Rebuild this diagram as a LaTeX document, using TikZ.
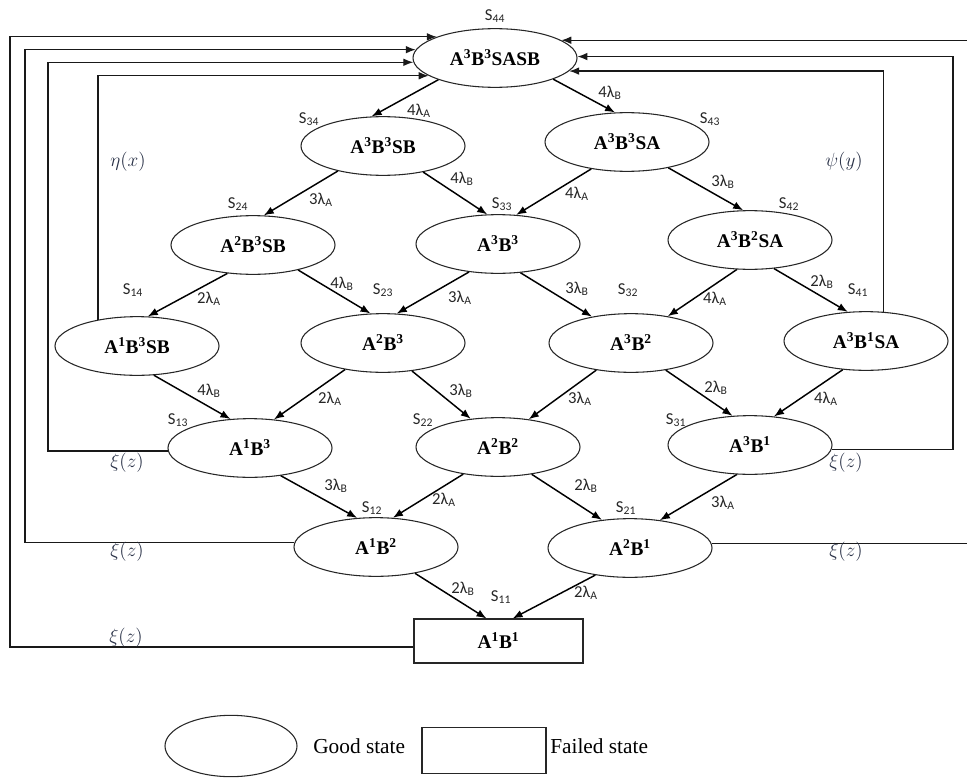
\documentclass[tikz,border=0pt]{standalone}
\usepackage{fontspec}
\setmainfont{Liberation Serif}
\newfontfamily\lblfont{Carlito}
\usetikzlibrary{shapes.geometric,arrows.meta}

% state text A^i B^j with an optional suffix
\newcommand\stateAB[3]{A\textsuperscript{#1}B\textsuperscript{#2}#3}
% state name S_ij
\newcommand\snm[1]{S\textsubscript{#1}}
% transition rate k lambda_X
\newcommand\rtl[2]{#1λ\textsubscript{#2}}

\definecolor{repcol}{RGB}{40,48,70}

\begin{document}
\begin{tikzpicture}[x=0.75pt,y=-0.75pt,
  good/.style={ellipse,draw=black!85,line width=0.8pt,minimum width=123pt,
    minimum height=44pt,inner sep=0pt,font=\fontsize{14.5}{16}\selectfont\bfseries},
  bad/.style={rectangle,draw=black!85,line width=0.8pt,minimum width=126.75pt,
    minimum height=33pt,inner sep=0pt,font=\fontsize{14.5}{16}\selectfont\bfseries},
  trans/.style={-{Latex[length=7.5pt,width=5.8pt]},line width=1.1pt},
  back/.style={-{Latex[length=7.5pt,width=5.8pt]},line width=1pt,draw=black!90},
  sname/.style={font=\lblfont\fontsize{12.5}{14}\selectfont,inner sep=0pt,text=black!85},
  rate/.style={font=\lblfont\fontsize{12.5}{14}\selectfont,inner sep=0pt,text=black!85},
  rep/.style={font=\fontsize{14}{16}\selectfont,inner sep=0pt,text=repcol},
  legtext/.style={font=\fontsize{16}{18}\selectfont,inner sep=0pt}
]
\useasboundingbox (0,0) rectangle (967,778);

% states
\node[good] (s44) at (495,58)  {\stateAB{3}{3}{SASB}};
\node[good] (s34) at (383,146) {\stateAB{3}{3}{SB}};
\node[good] (s43) at (627,142) {\stateAB{3}{3}{SA}};
\node[good] (s24) at (253,245) {\stateAB{2}{3}{SB}};
\node[good] (s33) at (498,244) {\stateAB{3}{3}{}};
\node[good] (s42) at (750,240) {\stateAB{3}{2}{SA}};
\node[good] (s14) at (137,346) {\stateAB{1}{3}{SB}};
\node[good] (s23) at (383,343) {\stateAB{2}{3}{}};
\node[good] (s32) at (631,343) {\stateAB{3}{2}{}};
\node[good] (s41) at (866,341) {\stateAB{3}{1}{SA}};
\node[good] (s13) at (250,448) {\stateAB{1}{3}{}};
\node[good] (s22) at (498,447) {\stateAB{2}{2}{}};
\node[good] (s31) at (750,445) {\stateAB{3}{1}{}};
\node[good] (s12) at (376,547) {\stateAB{1}{2}{}};
\node[good] (s21) at (630,548) {\stateAB{2}{1}{}};
\node[bad]  (s11) at (498.5,641) {\stateAB{1}{1}{}};

% state names
\node[sname] (n44) at (495,16)  {\snm{44}};
\node[sname] (n34) at (309,119) {\snm{34}};
\node[sname] (n43) at (710,119) {\snm{43}};
\node[sname] (n24) at (238,204) {\snm{24}};
\node[sname] (n33) at (502,204) {\snm{33}};
\node[sname] (n42) at (789,204) {\snm{42}};
\node[sname] (n14) at (133,290) {\snm{14}};
\node[sname] (n23) at (383,290) {\snm{23}};
\node[sname] (n32) at (628,290) {\snm{32}};
\node[sname] (n41) at (858,290) {\snm{41}};
\node[sname] (n13) at (178,420) {\snm{13}};
\node[sname] (n22) at (423,420) {\snm{22}};
\node[sname] (n31) at (676,420) {\snm{31}};
\node[sname] (n12) at (372,508) {\snm{12}};
\node[sname] (n21) at (626,508) {\snm{21}};
\node[sname] (n11) at (501,597) {\snm{11}};

% failure transitions
\draw[trans] (s44.201) -- (s34.111);
\draw[trans] (s44.340) -- (s43.112);
\draw[trans] (s34.209) -- (s24.70);
\draw[trans] (s34.327) -- (s33.110);
\draw[trans] (s43.217) -- (s33.58);
\draw[trans] (s43.328) -- (s42.103);
\draw[trans] (s24.228) -- (s14.70);
\draw[trans] (s24.331) -- (s23.113);
\draw[trans] (s33.224) -- (s23.65);
\draw[trans] (s33.308) -- (s32.146);
\draw[trans] (s42.246) -- (s32.36);
\draw[trans] (s42.310) -- (s41.122);
\draw[trans] (s14.300) -- (s13.124);
\draw[trans] (s23.215) -- (s13.50);
\draw[trans] (s23.316) -- (s22.134);
\draw[trans] (s32.218) -- (s22.42);
\draw[trans] (s32.322) -- (s31.121);
\draw[trans] (s41.231) -- (s31.50);
\draw[trans] (s13.318) -- (s12.123);
\draw[trans] (s22.218) -- (s12.60);
\draw[trans] (s22.321) -- (s21.135);
\draw[trans] (s31.246) -- (s21.43);
\draw[trans] (s12.326) -- (s11.118);
\draw[trans] (s21.218) -- (s11.58);

% rates
\node[rate] (r1) at (419,111) {\rtl{4}{A}};
\node[rate] (r2) at (610,93)  {\rtl{4}{B}};
\node[rate] (r3) at (321,200) {\rtl{3}{A}};
\node[rate] (r4) at (462,179) {\rtl{4}{B}};
\node[rate] (r5) at (577,194) {\rtl{4}{A}};
\node[rate] (r6) at (723,182) {\rtl{3}{B}};
\node[rate] (r7) at (209,299) {\rtl{2}{A}};
\node[rate] (r8) at (342,284) {\rtl{4}{B}};
\node[rate] (r9) at (460,298) {\rtl{3}{A}};
\node[rate] (r10) at (577,289) {\rtl{3}{B}};
\node[rate] (r11) at (715,299) {\rtl{4}{A}};
\node[rate] (r12) at (822,282) {\rtl{2}{B}};
\node[rate] (r13) at (209,391) {\rtl{4}{B}};
\node[rate] (r14) at (330,399) {\rtl{2}{A}};
\node[rate] (r15) at (461,391) {\rtl{3}{B}};
\node[rate] (r16) at (580,399) {\rtl{3}{A}};
\node[rate] (r17) at (716,388) {\rtl{2}{B}};
\node[rate] (r18) at (826,399) {\rtl{4}{A}};
\node[rate] (r19) at (336,486) {\rtl{3}{B}};
\node[rate] (r20) at (444,500) {\rtl{2}{A}};
\node[rate] (r21) at (586,486) {\rtl{2}{B}};
\node[rate] (r22) at (723,503) {\rtl{3}{A}};
\node[rate] (r23) at (463,589) {\rtl{2}{B}};
\node[rate] (r24) at (586,593) {\rtl{2}{A}};

% repair paths back to the fully working state
\coordinate (l1) at (10,300);
\coordinate (l2) at (25,300);
\coordinate (l3) at (48,300);
\coordinate (rr1) at (970,300);
\coordinate (rr2) at (953,300);
\draw[back] (s11.184) -| (l1) |- (s44.160);
\draw[back] (s12.177) -| (l2) |- (s44.174);
\draw[back] (s13.182) -| (l3) |- (s44.183.5);
\draw[back] (s14.146) |- (s44.195.5);
\draw[back] (s21.3) -| (rr1) |- (s44.15.5);
\draw[back] (s31.357) -| (rr2) |- (s44.1.5);
\draw[back] (s41.59.5) |- (s44.350);

% repair rates
\node[rep] (eta) at (128,162) {$\eta(x)$};
\node[rep] (psi) at (844,162) {$\psi(y)$};
\node[rep] (xi1) at (127,463) {$\xi(z)$};
\node[rep] (xi2) at (127,552) {$\xi(z)$};
\node[rep] (xi3) at (126,638) {$\xi(z)$};
\node[rep] (xi4) at (846,463) {$\xi(z)$};
\node[rep] (xi5) at (846,552) {$\xi(z)$};

% legend
\node[ellipse,draw=black!85,line width=0.8pt,minimum width=99pt,minimum height=46pt,inner sep=0pt] (lg) at (231,746) {};
\node[legtext,anchor=west] (lgt) at (313,746) {Good state};
\node[rectangle,draw=black!85,line width=0.8pt,minimum width=93pt,minimum height=35pt,inner sep=0pt] (lf) at (484,750.5) {};
\node[legtext,anchor=west] (lft) at (550,746) {Failed state};
\end{tikzpicture}
\end{document}
